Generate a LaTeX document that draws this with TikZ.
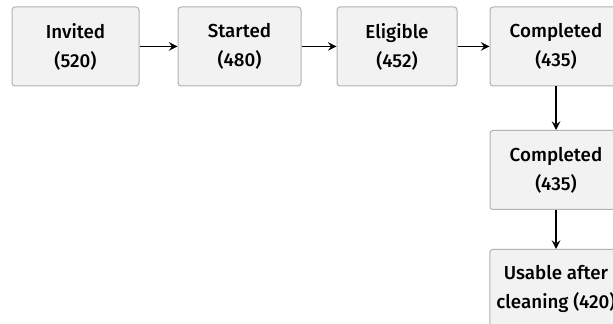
\documentclass[tikz,border=0pt]{standalone}
\usepackage{fontspec}
\setmainfont{Fira Sans}[UprightFont=* Medium]
\usepackage{tikz}
\usetikzlibrary{arrows, positioning}

\begin{document}
\begin{tikzpicture}[x=0.5pt,y=-0.5pt,>=stealth]
            \tikzstyle{stage}=[draw=gray!60, fill=gray!10, rounded corners=1.5pt, line width=0.5pt,
                               align=center, minimum width=63pt, minimum height=39.5pt,
                               font=\fontsize{9.4}{14.5}\selectfont]

            \clip (0,0) rectangle (613,324);
            \fill[white] (0,0) rectangle (613,324);

            \node[stage, minimum width=63.5pt] (invited) at (75.5, 46.5) {Invited\\(520)};
            \node[stage, minimum width=61.5pt] (started) at (239.5, 46.5) {Started\\(480)};
            \node[stage, minimum width=60pt] (eligible) at (397, 46.5) {Eligible\\(452)};
            \node[stage, minimum width=66pt] (completed) at (556, 46.5) {Completed\\(435)};

            \node[stage, minimum width=66pt] (completed_2) at (556, 170) {Completed\\(435)};
            \node[stage, minimum width=66pt] (usable) at (556, 289) {Usable after\\cleaning (420)};

            \path[->, line width=0.9pt]
            (invited) edge (started)
            (started) edge (eligible)
            (eligible) edge (completed)
            (completed) edge (completed_2)
            (completed_2) edge (usable);

          \end{tikzpicture}
\end{document}
